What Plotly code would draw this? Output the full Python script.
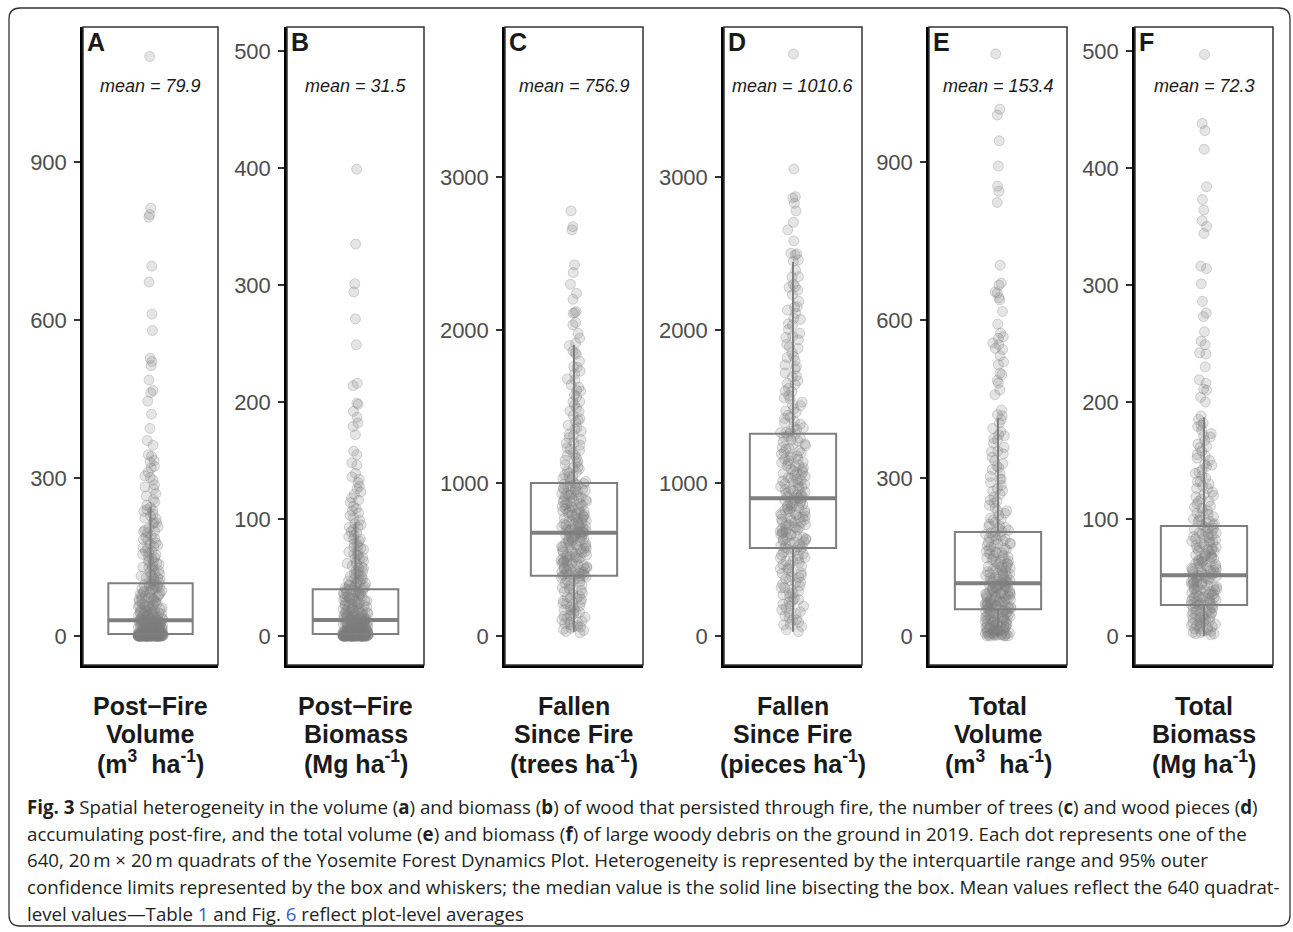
import plotly.graph_objects as go

# ---------------- data ----------------
panel_letters = ["A", "B", "C", "D", "E", "F"]
means = [79.9, 31.5, 756.9, 1010.6, 153.4, 72.3]

label_line1 = ["Post\u2212Fire", "Post\u2212Fire", "Fallen", "Fallen", "Total", "Total"]
label_line2 = ["Volume", "Biomass", "Since Fire", "Since Fire", "Volume", "Biomass"]
label_line3 = ["(m<sup>3</sup>\u00a0\u00a0ha<sup>-1</sup>)", "(Mg ha<sup>-1</sup>)",
               "(trees ha<sup>-1</sup>)", "(pieces ha<sup>-1</sup>)",
               "(m<sup>3</sup>\u00a0\u00a0ha<sup>-1</sup>)", "(Mg ha<sup>-1</sup>)"]

# box statistics: whisker ends are the 95% limits
q1s = [4, 1.7, 394, 575, 50.6, 26.5]
medians = [30, 13.7, 675, 900, 100, 52]
q3s = [100, 40, 1000, 1322, 197.5, 94]
lower_whisk = [0, 0, 28, 28, 0, 0]
upper_whisk = [245, 97, 1902, 2446, 413, 187]

tick_vals = [[0, 300, 600, 900], [0, 100, 200, 300, 400, 500], [0, 1000, 2000, 3000],
             [0, 1000, 2000, 3000], [0, 300, 600, 900], [0, 100, 200, 300, 400, 500]]
y_ranges = [[-55, 1156], [-24.8, 520.5], [-190, 3980], [-190, 3980], [-55, 1156], [-24.8, 520.5]]

post_fire_volume = [
    1100, 812, 800, 795, 702, 672, 611, 580, 527, 521, 513, 486, 466, 462, 446, 421, 394, 371, 362, 344,
    341, 333, 330, 322, 319, 311, 304, 301, 296, 287, 283, 279, 270, 266, 259, 254, 248,
    244, 239, 237, 231, 224, 222, 215, 213, 207, 201, 199, 196, 188, 185, 183, 177, 172, 170, 166, 161,
    158, 155, 151, 149, 144, 141, 138, 133, 131, 129, 126, 122, 119, 117, 114, 111, 108, 107, 104, 102,
    99, 97, 95, 93, 91, 89, 88, 85, 83, 81, 79, 78, 76, 73, 71, 69, 67, 66, 63, 61, 59, 58, 56, 54, 53,
    51, 49, 48, 47, 45, 44, 43, 41, 40, 39, 38, 36, 35, 34, 33, 32, 31, 31, 30, 30,
    29, 29, 28, 27, 27, 26, 25, 24, 24, 23, 22, 22, 21, 20, 20, 19, 18, 18, 17, 16, 16, 15, 15, 14, 13,
    13, 12, 12, 11, 11, 10, 10, 9, 9, 9, 8, 8, 7, 7, 7, 6, 6, 6, 5, 5, 5, 5, 4, 4, 4,
    3, 3, 3, 3, 3, 2, 2, 2, 2, 2, 2, 1, 1, 1, 1, 1, 1, 1,
    0, 0, 0, 0, 0, 0, 0, 0, 0, 0, 0, 0, 0, 0, 0, 0, 0, 0, 0, 0, 0, 0, 0, 0, 0, 0, 0, 0, 0, 0, 0, 0,
]
post_fire_volume_more = [
    0, 0, 0, 0, 0, 0, 0, 0, 0, 0, 0, 0, 0, 0, 0, 0, 0, 0, 0, 0, 0, 0, 0, 0, 0, 0, 0, 0, 0, 0,
    1, 1, 1, 1, 2, 2, 2, 2, 3, 3, 3, 3, 4, 4, 4,
    5, 5, 6, 6, 7, 7, 8, 8, 9, 10, 10, 11, 12, 12, 13, 14, 15, 15, 16, 17, 18, 19, 20, 21, 22, 23,
    24, 25, 26, 27, 28, 29,
    30, 32, 33, 35, 36, 38, 40, 42, 43, 46, 48, 50, 52, 55, 57, 59, 62, 64, 67, 70, 72, 75, 77, 81,
    84, 86, 90, 92, 96, 98,
    101, 105, 110, 113, 118, 124, 130, 136, 141, 147, 154, 160, 168, 175, 182, 190, 198, 205, 215,
    228, 240,
]

post_fire_biomass = [
    399, 335, 301, 294, 271, 249, 216, 214, 199, 198, 192, 187, 182, 179, 172, 158, 155, 148, 146, 139,
    136, 134, 131, 128, 126, 123, 121, 118, 116, 114, 111, 109, 107, 105, 103, 101, 99,
    96, 95, 93, 91, 89, 86, 85, 83, 81, 79, 77, 76, 74, 72, 70, 69, 67, 66, 64, 62, 61, 59, 58, 56,
    55, 53, 52, 51, 49, 48, 47, 46, 45, 44, 43, 42, 42, 41, 40, 40,
    39, 38, 38, 37, 36, 35, 34, 34, 33, 32, 31, 30, 30, 29, 28, 27, 27, 26, 25, 24, 24, 23, 22, 22,
    21, 20, 20, 19, 19, 18, 18, 17, 17, 16, 16, 15, 15, 15, 14, 14, 14,
    13, 13, 13, 12, 12, 12, 11, 11, 11, 10, 10, 10, 9, 9, 9, 8, 8, 8, 8, 7, 7, 7, 6, 6, 6, 6, 5, 5,
    5, 5, 4, 4, 4, 4, 4, 3, 3, 3, 3, 3, 3, 2, 2, 2, 2, 2, 2,
    1, 1, 1, 1, 1, 1, 1, 1, 1, 1, 0.5, 0.5, 0.5, 0.5,
    0, 0, 0, 0, 0, 0, 0, 0, 0, 0, 0, 0, 0, 0, 0, 0, 0, 0, 0, 0, 0, 0, 0, 0, 0, 0, 0, 0, 0, 0, 0, 0,
]
post_fire_biomass_more = [
    0, 0, 0, 0, 0, 0, 0, 0, 0, 0, 0, 0, 0, 0, 0, 0, 0, 0, 0, 0, 0, 0, 0, 0, 0, 0, 0, 0, 0, 0,
    0.5, 0.5, 1, 1, 1, 1, 1.5, 1.5, 2, 2, 2, 2,
    2.5, 3, 3, 3.5, 4, 4, 4.5, 5, 5, 5.5, 6, 6.5, 7, 7, 7.5, 8, 8.5, 9, 9.5, 10, 10.5, 11, 11.5, 12,
    12.5, 13, 13.5,
    14, 15, 15.5, 16, 17, 17.5, 18, 19, 20, 21, 22, 23, 24, 25, 26, 27, 28, 29, 30, 31, 32, 33, 34,
    35, 36, 37, 38, 39,
    41, 43, 45, 47, 49, 51, 53, 55, 58, 60, 63, 66, 69, 72, 75, 79, 83, 88, 93,
]

fallen_trees = [
    2778, 2675, 2654, 2425, 2375, 2298, 2239, 2200, 2120, 2113, 2109, 2048, 2033, 1978, 1946, 1913,
    1898, 1862, 1841, 1797, 1756, 1731, 1712, 1673, 1641, 1625, 1604, 1575, 1563, 1531, 1508, 1489,
    1466, 1441, 1420, 1398, 1377, 1352, 1338, 1319, 1296, 1284, 1263, 1247, 1229, 1212, 1196, 1181,
    1163, 1149, 1132, 1118, 1104, 1091, 1077, 1064, 1052, 1041, 1027, 1016, 1004,
    996, 988, 979, 968, 959, 951, 940, 931, 923, 914, 905, 897, 889, 880, 871, 864, 856, 847, 839,
    830, 823, 816, 808, 799, 792, 784, 777, 769, 761, 754, 747, 740, 733, 726, 719, 712, 705, 699,
    693, 688, 684, 680, 678, 677, 676,
    672, 665, 657, 650, 642, 633, 627, 619, 612, 604, 597, 589, 581, 575, 566, 560, 552, 545, 538,
    530, 523, 516, 509, 501, 494, 488, 481, 473, 466, 460, 453, 447, 440, 434, 428, 421, 415, 410,
    405, 401, 398, 396, 395,
    390, 381, 372, 361, 352, 344, 333, 326, 315, 307, 298, 289, 280, 271, 262, 255, 246, 238, 229,
    221, 212, 205, 196, 188, 179, 171, 163, 154, 146, 139, 130, 122, 114, 106, 97, 89, 81, 73, 66,
    58, 50, 43, 36, 29, 20,
]
fallen_trees_more = [
    300, 340, 370, 385, 399, 410, 420, 432, 445, 458, 470, 483, 495, 508, 520, 534, 547, 559, 571,
    584, 596, 608, 620, 632, 645, 657, 668, 680, 691, 703, 715, 728, 740, 752, 765, 778, 790, 803,
    815, 828, 840, 853, 866, 878, 891, 903, 916, 929, 941, 954, 967, 980, 993,
    405, 440, 475, 512, 548, 585, 622, 660, 695, 732, 770, 808, 845, 882, 920, 958, 995,
    1010, 1040, 1070, 1100, 1140, 1180, 1220, 1260, 1310, 1360, 1410, 1470, 1530, 1600, 1680, 1760,
    1850, 250, 210, 170, 130, 90, 60,
]

fallen_pieces = [
    3804, 3052, 2871, 2862, 2828, 2778, 2704, 2654, 2582, 2501, 2498, 2490, 2458, 2449,
    2348, 2345, 2298, 2283, 2279, 2231, 2187, 2152, 2148, 2109, 2076, 2069, 2031, 2003, 1978, 1951,
    1935, 1907, 1879, 1852, 1825, 1798, 1771, 1745, 1719, 1692, 1668, 1643, 1619, 1597, 1572, 1550,
    1528, 1505, 1483, 1462, 1442, 1421, 1402, 1384, 1366, 1349, 1337, 1329, 1324,
    1318, 1306, 1292, 1280, 1267, 1255, 1244, 1232, 1221, 1209, 1198, 1187, 1177, 1166, 1156, 1146,
    1136, 1126, 1116, 1107, 1098, 1088, 1079, 1069, 1061, 1052, 1043, 1034, 1025, 1017, 1008, 999,
    991, 982, 974, 965, 957, 949, 941, 933, 925, 917, 910, 905, 902,
    897, 889, 881, 873, 866, 858, 850, 843, 835, 828, 820, 813, 806, 798, 791, 784, 777, 770, 762,
    755, 748, 741, 734, 727, 720, 713, 706, 699, 692, 685, 678, 671, 664, 657, 650, 643, 636, 629,
    622, 615, 607, 599, 590, 583, 577,
    570, 558, 547, 535, 524, 512, 501, 489, 478, 466, 455, 443, 432, 420, 409, 397, 386, 374, 362,
    350, 339, 327, 315, 303, 291, 280, 268, 256, 244, 232, 220, 208, 196, 183, 171, 158, 145, 132,
    118, 104, 90, 76, 72, 40, 28,
]
fallen_pieces_more = [
    2390, 2260, 2130, 2040, 1960, 1890, 1820, 1760, 1700, 1650, 1600, 1555, 1510, 1470, 1430, 1395,
    1360, 1330, 1300, 1275, 1250, 1225, 1200, 1178, 1155, 1133, 1112, 1090, 1070, 1050, 1031, 1012,
    994, 976, 958, 940, 922, 905, 888, 871, 854, 838, 822, 806, 790, 774, 758, 742, 726, 710, 694,
    678, 662, 646, 630, 614, 598, 582, 566, 548, 530, 510, 488, 465, 440, 412, 382, 350, 315, 278,
    238, 195, 150, 105, 62,
]

total_volume = [
    1105, 1000, 989, 940, 892, 854, 844, 823, 704, 670, 666, 653, 651, 642, 638, 616, 592, 575, 568,
    565, 556, 553, 546, 544, 532, 520, 515, 499, 496, 485, 480, 467, 458, 429, 420, 418,
    411, 404, 394, 388, 382, 375, 372, 366, 358, 351, 346, 339, 333, 327, 320, 316, 309, 303, 298,
    291, 286, 280, 275, 269, 264, 258, 253, 248, 243, 238, 233, 229, 224, 220, 216, 212, 209, 206,
    203, 201, 199,
    196, 193, 190, 186, 184, 181, 178, 175, 172, 169, 166, 164, 161, 158, 156, 153, 150, 148, 146,
    143, 140, 138, 136, 133, 131, 129, 126, 124, 122, 120, 118, 116, 114, 112, 110, 108, 106, 105,
    103, 102, 101,
    99, 98, 96, 95, 93, 92, 90, 89, 88, 86, 85, 83, 82, 80, 79, 78, 76, 75, 74, 72, 71, 70, 69, 67,
    66, 65, 64, 62, 61, 60, 59, 58, 57, 56, 55, 54, 53, 52, 51, 51,
    49, 47, 46, 44, 43, 41, 40, 38, 37, 35, 34, 32, 31, 29, 28, 26, 25, 24, 22, 21, 20, 18, 17, 16,
    15, 14, 12, 11, 10, 9, 8, 7, 6, 5, 4, 3, 3, 2, 2, 1, 1, 0, 0, 0, 0,
]
total_volume_more = [
    2, 4, 6, 8, 10, 13, 16, 19, 22, 25, 28, 31, 34, 37, 40, 43, 46, 49, 52, 55, 58, 61, 64, 67, 70,
    73, 76, 79, 82, 85, 88, 91, 94, 97, 100, 103, 107, 111, 115, 119, 123, 127, 132, 137, 142, 147,
    152, 158, 164, 170, 176, 183, 190, 197, 208, 222, 238, 256, 276, 298, 322, 350, 380,
    5, 12, 20, 30, 42, 55, 68, 80, 92, 105, 118, 130, 145, 160, 175, 190,
]

total_biomass = [
    497, 438, 432, 416, 384, 373, 364, 355, 350, 344, 316, 314, 301, 286, 276, 273, 260, 252, 249,
    242, 241, 230, 219, 216, 211, 210, 204, 200, 188,
    185, 182, 179, 176, 173, 170, 167, 164, 161, 158, 155, 152, 150, 147, 145, 142, 140, 137, 135,
    132, 130, 128, 126, 123, 121, 119, 117, 115, 113, 111, 109, 107, 105, 104, 102, 100, 99, 98, 97,
    96, 95,
    93, 92, 91, 89, 88, 87, 85, 84, 83, 81, 80, 79, 78, 76, 75, 74, 73, 72, 70, 69, 68, 67, 66, 65,
    64, 63, 62, 61, 60, 59, 58, 57, 56, 55, 55, 54, 53, 53, 52,
    51, 50, 50, 49, 48, 47, 46, 46, 45, 44, 43, 42, 42, 41, 40, 39, 39, 38, 37, 36, 36, 35, 34, 33,
    33, 32, 31, 30, 30, 29, 28, 28, 27, 27,
    26, 25, 24, 23, 22, 21, 20, 19, 18, 17, 16, 15, 14, 13, 12, 11, 10, 9, 8, 7, 6, 5, 4, 3, 2, 1,
]
total_biomass_more = [
    2, 4, 6, 8, 10, 12, 14, 16, 18, 20, 22, 24, 26, 28, 30, 32, 34, 36, 38, 40, 42, 44, 46, 48, 50,
    52, 54, 56, 58, 60, 62, 64, 66, 68, 70, 72, 74, 76, 78, 80, 82, 84, 86, 88, 90, 92, 95, 98, 102,
    106, 110, 115, 120, 126, 132, 139, 146, 154, 162, 171, 180,
    3, 9, 15, 21, 27, 33, 39, 45, 51, 57, 63, 69, 75, 81, 87,
]

panel_values = [post_fire_volume + post_fire_volume_more,
                post_fire_biomass + post_fire_biomass_more,
                fallen_trees + fallen_trees_more,
                fallen_pieces + fallen_pieces_more,
                total_volume + total_volume_more,
                total_biomass + total_biomass_more]

caption_lines = [
    "<b>Fig. 3</b> Spatial heterogeneity in the volume (<b>a</b>) and biomass (<b>b</b>) of wood that persisted through fire, the number of trees (<b>c</b>) and wood pieces (<b>d</b>)",
    "accumulating post-fire, and the total volume (<b>e</b>) and biomass (<b>f</b>) of large woody debris on the ground in 2019. Each dot represents one of the",
    "640, 20\u2009m \u00d7 20\u2009m quadrats of the Yosemite Forest Dynamics Plot. Heterogeneity is represented by the interquartile range and 95% outer",
    "confidence limits represented by the box and whiskers; the median value is the solid line bisecting the box. Mean values reflect the 640 quadrat-",
    "level values\u2014Table <span style='color:#3560c8'>1</span> and Fig. <span style='color:#3560c8'>6</span> reflect plot-level averages",
]

# ---------------- layout geometry (pixels) ----------------
W, H = 1293, 932
panel_px = [(83, 218), (287, 424), (505, 643), (724, 862), (929, 1067), (1135, 1273)]
top_px, bot_px = 27, 665


def px(x):
    return x / W


def py(y):
    return 1 - y / H


GREY = "#7f7f7f"
FONT = "Liberation Sans, Arial, sans-serif"

fig = go.Figure()
layout = dict(
    width=W, height=H, margin=dict(l=0, r=0, t=0, b=0),
    paper_bgcolor="white", plot_bgcolor="white", showlegend=False,
    boxmode="overlay", font=dict(family=FONT),
)
annotations = []
shapes = []

for i in range(6):
    n = "" if i == 0 else str(i + 1)
    xa, ya = "x" + n, "y" + n
    # jittered points (library jitter)
    fig.add_trace(go.Box(
        y=panel_values[i], x0=0, orientation="v", xaxis=xa, yaxis=ya,
        boxpoints="all", jitter=0.3, pointpos=0, width=0.75,
        marker=dict(color="rgba(127,127,127,0.2)", size=10,
                    line=dict(color="rgba(127,127,127,0.3)", width=1)),
        line=dict(color="rgba(0,0,0,0)", width=0), fillcolor="rgba(0,0,0,0)",
        hoverinfo="skip", showlegend=False,
    ))
    # box + whiskers from precomputed statistics
    fig.add_trace(go.Box(
        x=[0], q1=[q1s[i]], median=[medians[i]], q3=[q3s[i]],
        lowerfence=[lower_whisk[i]], upperfence=[upper_whisk[i]],
        orientation="v", xaxis=xa, yaxis=ya, width=0.75, whiskerwidth=0,
        boxpoints=False, line=dict(color=GREY, width=2), fillcolor="rgba(0,0,0,0)",
        hoverinfo="skip", showlegend=False,
    ))
    # thick median bar
    m = medians[i]
    fig.add_trace(go.Box(
        x=[0], q1=[m], median=[m], q3=[m], lowerfence=[m], upperfence=[m],
        orientation="v", xaxis=xa, yaxis=ya, width=0.75, whiskerwidth=0,
        boxpoints=False, line=dict(color=GREY, width=4), fillcolor="rgba(0,0,0,0)",
        hoverinfo="skip", showlegend=False,
    ))

    x0p, x1p = panel_px[i]
    layout["xaxis" + n] = dict(
        domain=[px(x0p), px(x1p)], range=[-0.6, 0.6], anchor=ya,
        showline=True, linecolor="black", linewidth=2.5, showticklabels=False,
        ticks="", showgrid=False, zeroline=False, fixedrange=True,
    )
    layout["yaxis" + n] = dict(
        domain=[py(bot_px), py(top_px)], range=y_ranges[i], anchor=xa,
        tickvals=tick_vals[i], ticks="outside", ticklen=6, tickwidth=1.6, tickcolor="#333333",
        tickfont=dict(family=FONT, size=22, color="#4d4d4d"), ticklabelstandoff=3,
        showline=True, linecolor="black", linewidth=2.5,
        showgrid=False, zeroline=False, fixedrange=True,
    )
    shapes.append(dict(type="rect", xref=xa + " domain", yref=ya + " domain",
                       x0=0, x1=1, y0=0, y1=1, line=dict(color="#333333", width=1.5),
                       layer="above"))
    cx = (x0p + x1p) / 2
    annotations.append(dict(text="<b>" + panel_letters[i] + "</b>", xref="paper", yref="paper",
                            x=px(x0p + 2), y=py(top_px - 1), xanchor="left", yanchor="top",
                            showarrow=False, font=dict(family=FONT, size=25, color="#1a1a1a")))
    annotations.append(dict(text="<i>mean = " + str(means[i]) + "</i>", xref="paper", yref="paper",
                            x=px(cx), y=py(86), xanchor="center", yanchor="middle",
                            showarrow=False, font=dict(family=FONT, size=18, color="#1a1a1a")))
    for line_text, ly in zip([label_line1[i], label_line2[i], label_line3[i]], [706, 734, 762]):
        annotations.append(dict(text="<b>" + line_text + "</b>", xref="paper", yref="paper",
                                x=px(cx), y=py(ly), xanchor="center", yanchor="middle",
                                showarrow=False, font=dict(family=FONT, size=25, color="#1a1a1a")))

for line_text, ly in zip(caption_lines, [806, 833, 859, 886, 913]):
    annotations.append(dict(text=line_text, xref="paper", yref="paper",
                            x=px(25), y=py(ly), xanchor="left", yanchor="middle",
                            showarrow=False, font=dict(family="Open Sans, Lato, sans-serif",
                                                       size=18.7, color="#231f20")))

# rounded outer frame
L, T, R, B, r = 9, 8, 1290, 926, 11
path = (f"M {px(L + r)},{py(T)} L {px(R - r)},{py(T)} Q {px(R)},{py(T)} {px(R)},{py(T + r)} "
        f"L {px(R)},{py(B - r)} Q {px(R)},{py(B)} {px(R - r)},{py(B)} "
        f"L {px(L + r)},{py(B)} Q {px(L)},{py(B)} {px(L)},{py(B - r)} "
        f"L {px(L)},{py(T + r)} Q {px(L)},{py(T)} {px(L + r)},{py(T)} Z")
shapes.append(dict(type="path", xref="paper", yref="paper", path=path,
                   line=dict(color="#333333", width=1.3), layer="above"))

layout["annotations"] = annotations
layout["shapes"] = shapes
fig.update_layout(**layout)

fig.write_html("out.html", config={"displayModeBar": False},
               post_script="document.body.style.margin='0';document.body.style.overflow='hidden';")
